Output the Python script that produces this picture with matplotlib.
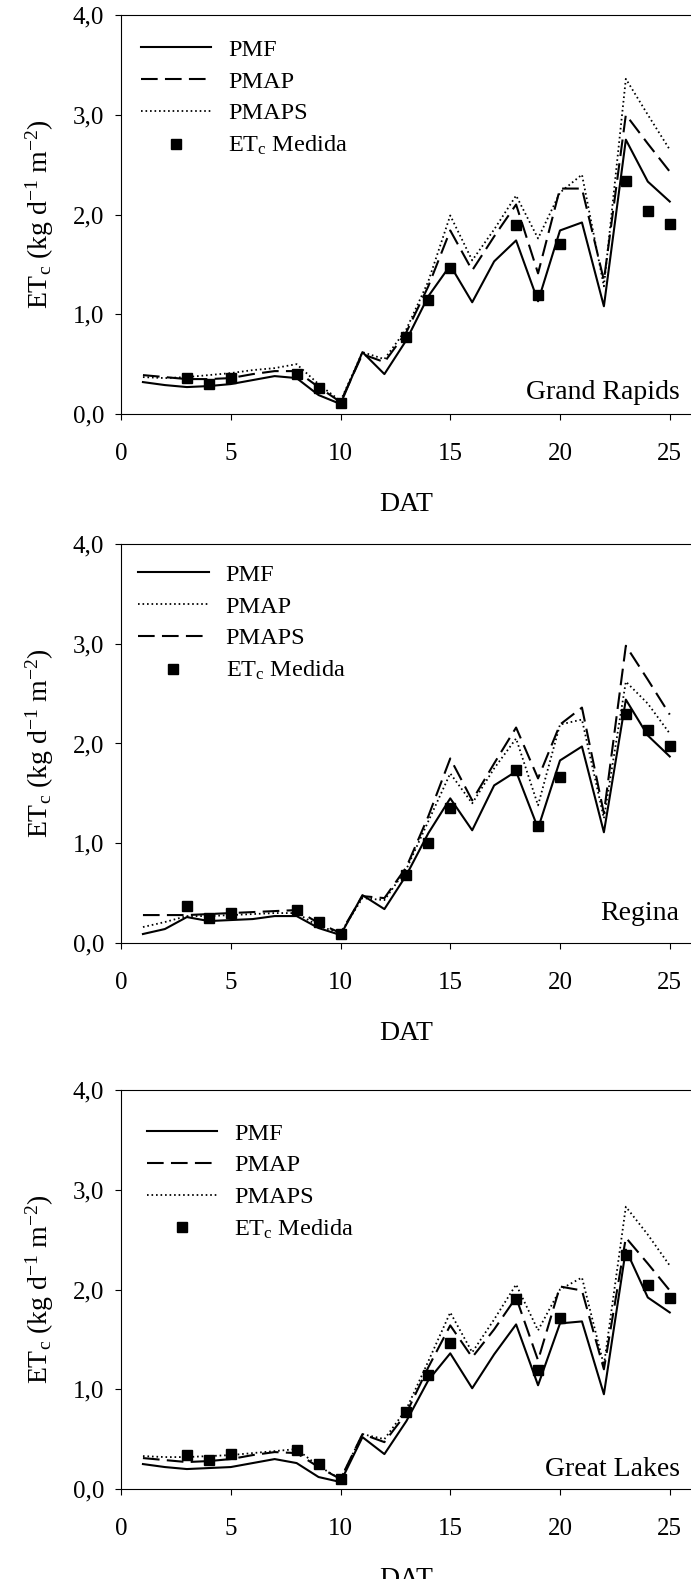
import numpy as np
import matplotlib.pyplot as plt

plt.rcParams['font.family'] = ['Liberation Serif', 'DejaVu Serif']
plt.rcParams['mathtext.fontset'] = 'custom'
plt.rcParams['mathtext.rm'] = 'Liberation Serif'
plt.rcParams['mathtext.it'] = 'Liberation Serif:italic'

days = np.arange(1, 26)
medida_days = [3, 4, 5, 8, 9, 10, 13, 14, 15, 18, 19, 20, 23, 24, 25]

# Grand Rapids
gr_pmf = [0.32, 0.29, 0.27, 0.28, 0.30, 0.34, 0.38, 0.36, 0.19, 0.10, 0.62, 0.40, 0.74,
          1.18, 1.49, 1.12, 1.53, 1.74, 1.13, 1.84, 1.92, 1.08, 2.75, 2.33, 2.13]
gr_pmap = [0.39, 0.37, 0.35, 0.35, 0.36, 0.40, 0.43, 0.43, 0.27, 0.12, 0.60, 0.52, 0.82,
           1.28, 1.84, 1.44, 1.78, 2.10, 1.41, 2.26, 2.26, 1.34, 3.00, 2.71, 2.43]
gr_pmaps = [0.37, 0.36, 0.37, 0.39, 0.41, 0.44, 0.46, 0.50, 0.30, 0.13, 0.62, 0.55, 0.85,
            1.33, 1.99, 1.54, 1.85, 2.19, 1.76, 2.22, 2.40, 1.28, 3.36, 3.00, 2.65]
gr_medida = [0.36, 0.30, 0.36, 0.40, 0.26, 0.11, 0.77, 1.14, 1.46, 1.89, 1.19, 1.70, 2.34, 2.04, 1.90]

# Regina
rg_pmf = [0.09, 0.14, 0.26, 0.22, 0.23, 0.24, 0.27, 0.27, 0.15, 0.08, 0.48, 0.34, 0.68,
          1.10, 1.45, 1.13, 1.58, 1.72, 1.15, 1.83, 1.97, 1.11, 2.44, 2.08, 1.87]
rg_pmap = [0.16, 0.21, 0.27, 0.27, 0.28, 0.29, 0.30, 0.30, 0.17, 0.10, 0.45, 0.43, 0.74,
           1.22, 1.70, 1.40, 1.75, 2.05, 1.38, 2.19, 2.24, 1.25, 2.62, 2.40, 2.10]
rg_pmaps = [0.28, 0.28, 0.28, 0.29, 0.30, 0.31, 0.32, 0.33, 0.20, 0.10, 0.47, 0.45, 0.76,
            1.27, 1.85, 1.43, 1.80, 2.16, 1.65, 2.19, 2.36, 1.30, 2.98, 2.64, 2.29]
rg_medida = [0.37, 0.25, 0.30, 0.33, 0.21, 0.09, 0.68, 1.00, 1.35, 1.73, 1.17, 1.66, 2.30, 2.14, 1.97]

# Great Lakes
gl_pmf = [0.25, 0.22, 0.20, 0.21, 0.22, 0.26, 0.30, 0.26, 0.12, 0.07, 0.52, 0.35, 0.68,
          1.09, 1.36, 1.01, 1.35, 1.65, 1.04, 1.66, 1.68, 0.95, 2.40, 1.92, 1.77]
gl_pmap = [0.31, 0.29, 0.27, 0.28, 0.30, 0.34, 0.37, 0.36, 0.22, 0.10, 0.55, 0.47, 0.76,
           1.22, 1.64, 1.32, 1.60, 1.92, 1.29, 2.03, 1.99, 1.20, 2.52, 2.26, 1.99]
gl_pmaps = [0.33, 0.32, 0.32, 0.33, 0.34, 0.36, 0.38, 0.40, 0.23, 0.10, 0.55, 0.50, 0.80,
            1.28, 1.77, 1.37, 1.70, 2.05, 1.59, 2.00, 2.12, 1.24, 2.83, 2.55, 2.24]
gl_medida = [0.34, 0.29, 0.35, 0.39, 0.25, 0.10, 0.77, 1.14, 1.46, 1.90, 1.19, 1.71, 2.35, 2.05, 1.91]

x_ticks = [0, 5, 10, 15, 20, 25]
y_ticks = [0, 1, 2, 3, 4]
y_tick_labels = ['0,0', '1,0', '2,0', '3,0', '4,0']

DASHED = (0, (8, 3.5))
DOTTED = (0, (0.9, 1.6))

W, H = 691, 1579
fig = plt.figure(figsize=(W / 100, H / 100), dpi=100)


def make_axes(top_px, bottom_px):
    left = 121 / W
    return fig.add_axes([left, 1 - bottom_px / H, 1 - left, (bottom_px - top_px) / H])


def draw_panel(ax, pmf, pmap, pmaps, medida, pmap_ls, pmaps_ls, site, site_y, leg_anchor):
    h_pmf, = ax.plot(days, pmf, color='black', lw=1.5, ls='-', label='PMF')
    h_pmap, = ax.plot(days, pmap, color='black', lw=1.5 if pmap_ls == DASHED else 1.3,
                      ls=pmap_ls, label='PMAP')
    h_pmaps, = ax.plot(days, pmaps, color='black', lw=1.5 if pmaps_ls == DASHED else 1.3,
                       ls=pmaps_ls, label='PMAPS')
    h_med, = ax.plot(medida_days, medida, ls='none', marker='s', ms=7.5, color='black',
                     label=r'ET$_\mathrm{c}$ Medida')
    ax.legend(handles=[h_pmf, h_pmap, h_pmaps, h_med], loc='upper left', bbox_to_anchor=leg_anchor,
              frameon=False, fontsize=17.5, handlelength=2.9, handletextpad=0.7, labelspacing=0.4,
              borderaxespad=0, borderpad=0, numpoints=1)
    ax.text(0.98, site_y, site, transform=ax.transAxes, ha='right', va='baseline', fontsize=20)

    ax.set_xlim(0, (W - 121) / 21.95)
    ax.set_ylim(0, 4)
    ax.set_xticks(x_ticks)
    ax.set_yticks(y_ticks)
    ax.set_yticklabels(y_tick_labels)
    ax.tick_params(direction='out', length=4, width=0.8, labelsize=18)
    ax.tick_params(axis='y', pad=8)
    ax.tick_params(axis='x', pad=17)
    ax.spines['right'].set_visible(False)
    for s in ('left', 'bottom', 'top'):
        ax.spines[s].set_linewidth(0.8)
    ax.set_xlabel('DAT', fontsize=20, labelpad=19)
    ax.set_ylabel(r'ET$_\mathrm{c}$ (kg d$^\mathrm{-1}$ m$^\mathrm{-2}$)', fontsize=20, labelpad=12)


ax1 = make_axes(15, 414)
draw_panel(ax1, gr_pmf, gr_pmap, gr_pmaps, gr_medida, DASHED, DOTTED,
           'Grand Rapids', 0.037, (0.035, 0.94))

ax2 = make_axes(544, 943)
draw_panel(ax2, rg_pmf, rg_pmap, rg_pmaps, rg_medida, DOTTED, DASHED,
           'Regina', 0.058, (0.03, 0.95))

ax3 = make_axes(1090, 1489)
draw_panel(ax3, gl_pmf, gl_pmap, gl_pmaps, gl_medida, DASHED, DOTTED,
           'Great Lakes', 0.033, (0.045, 0.918))

fig.savefig('out.png', dpi=100)
